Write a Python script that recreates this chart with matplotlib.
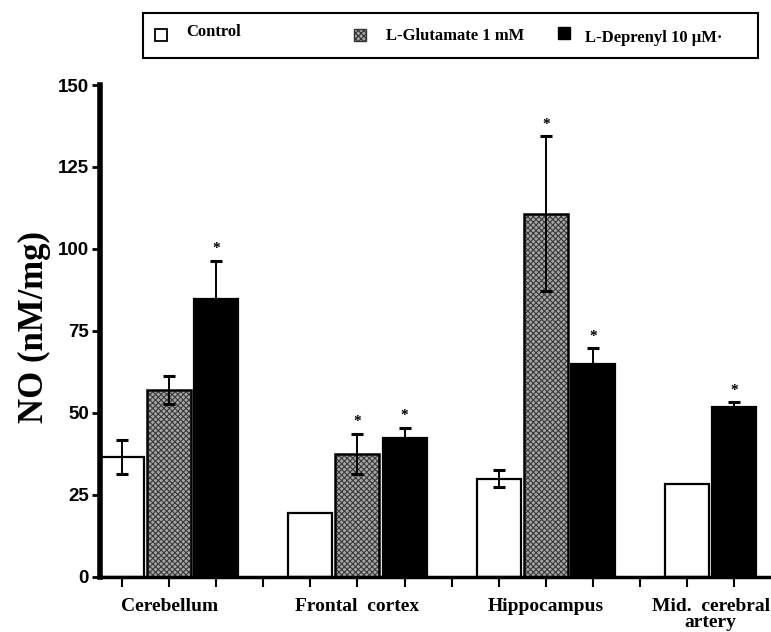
import numpy as np
import matplotlib
matplotlib.use("Agg")
import matplotlib.pyplot as plt
from matplotlib.patches import Rectangle

# values (NO, nM/mg)
regions = ["Cerebellum", "Frontal  cortex", "Hippocampus", "Mid.  cerebral\nartery"]
control = [36.4, 19.5, 29.9, 28.3]
control_err = [5.2, 0.0, 2.6, 0.0]
glutamate = [56.9, 37.5, 110.8, np.nan]   # no glutamate bar for the artery
glutamate_err = [4.2, 6.1, 23.5, 0.0]
deprenyl = [84.6, 42.4, 64.9, 51.8]
deprenyl_err = [11.7, 3.1, 4.8, 1.4]
glut_sig = [False, True, True, False]
dep_sig = [True, True, True, True]

serif = ["Liberation Serif", "DejaVu Serif"]
sans = ["Liberation Sans", "DejaVu Sans"]
plt.rcParams["hatch.linewidth"] = 0.8

fig = plt.figure(figsize=(7.71, 6.32), dpi=100)
ax = fig.add_axes([0.1297, 0.0875, 0.869, 0.778])

# slot layout: 3 slots per group + 1 empty slot between groups
ctrl_x = np.array([0, 4, 8, 12])
glut_x = np.array([1, 5, 9, 11])
dep_x = np.array([2, 6, 10, 13])
w = 0.935

ekw = dict(ecolor="black", elinewidth=1.4, capsize=4, capthick=2.2)

ax.bar(ctrl_x, control, w, color="white", edgecolor="black", linewidth=1.6, zorder=2)
# stippled fill first, then a black outline on top
ax.bar(glut_x, glutamate, w, color="#a6a6a6", edgecolor="#3a3a3a", linewidth=0,
       hatch="xxxxxx", zorder=2)
ax.bar(glut_x, glutamate, w, fill=False, edgecolor="black", linewidth=1.8, zorder=2)
ax.bar(dep_x, deprenyl, w, color="black", edgecolor="black", linewidth=1.6, zorder=2)

for xs, vals, errs in [(ctrl_x, control, control_err),
                       (glut_x, glutamate, glutamate_err),
                       (dep_x, deprenyl, deprenyl_err)]:
    for x, v, e in zip(xs, vals, errs):
        if np.isnan(v) or e == 0:
            continue
        ax.errorbar(x, v, yerr=e, fmt="none", zorder=3, **ekw)

# significance stars
for xs, vals, errs, sig in [(glut_x, glutamate, glutamate_err, glut_sig),
                            (dep_x, deprenyl, deprenyl_err, dep_sig)]:
    for x, v, e, s in zip(xs, vals, errs, sig):
        if s:
            ax.annotate("*", (x, v + e), xytext=(0, 4), textcoords="offset points",
                        ha="center", va="bottom", fontsize=11, fontweight="bold",
                        family=serif)

ax.set_xlim(-0.467, 13.76)
ax.set_ylim(0, 150)
ax.set_yticks([0, 25, 50, 75, 100, 125, 150])
ax.set_yticklabels(["0", "25", "50", "75", "100", "125", "150"],
                   fontsize=13.5, fontweight="bold", family=sans)
ax.set_xticks(np.arange(14))
ax.set_xticklabels([])
ax.tick_params(axis="y", direction="out", length=6, width=2, pad=2)
ax.tick_params(axis="x", direction="out", length=7, width=1.5)

for side in ["top", "right"]:
    ax.spines[side].set_visible(False)
ax.spines["left"].set_linewidth(4)
ax.spines["bottom"].set_linewidth(2.5)

# group labels under the axis
label_x = [1, 5, 9, 12.5]
for x, name in zip(label_x, regions):
    ax.text(x, -6.5, name, ha="center", va="top", fontsize=14, fontweight="bold",
            family=serif, linespacing=0.9, transform=ax.transData, clip_on=False)

fig.text(0.045, 0.483, "NO (nM/mg)", rotation=90, ha="center", va="center",
         fontsize=25, fontweight="bold", family=serif)

# legend box drawn by hand, like the original figure
fig.patches.append(Rectangle((143 / 771, 1 - 58 / 632), 615 / 771, 45 / 632,
                             transform=fig.transFigure, facecolor="white",
                             edgecolor="black", linewidth=1.5))
sq = 12
fig.patches.append(Rectangle((155 / 771, 1 - 41 / 632), sq / 771, sq / 632,
                             transform=fig.transFigure, facecolor="white",
                             edgecolor="black", linewidth=1.3))
fig.patches.append(Rectangle((354 / 771, 1 - 41 / 632), sq / 771, sq / 632,
                             transform=fig.transFigure, facecolor="#a6a6a6",
                             edgecolor="#333333", linewidth=1.0, hatch="xxxxxx"))
fig.patches.append(Rectangle((558 / 771, 1 - 39 / 632), sq / 771, sq / 632,
                             transform=fig.transFigure, facecolor="black",
                             edgecolor="black", linewidth=1.0))
fig.text(186 / 771, 1 - 32 / 632, "Control", ha="left", va="center",
         fontsize=12, fontweight="bold", family=serif)
fig.text(386 / 771, 1 - 36 / 632, "L-Glutamate 1 mM", ha="left", va="center",
         fontsize=12, fontweight="bold", family=serif)
fig.text(585 / 771, 1 - 38 / 632, "L-Deprenyl 10 \u00b5M\u00b7", ha="left", va="center",
         fontsize=12, fontweight="bold", family=serif)

fig.savefig("out.png", dpi=100)
